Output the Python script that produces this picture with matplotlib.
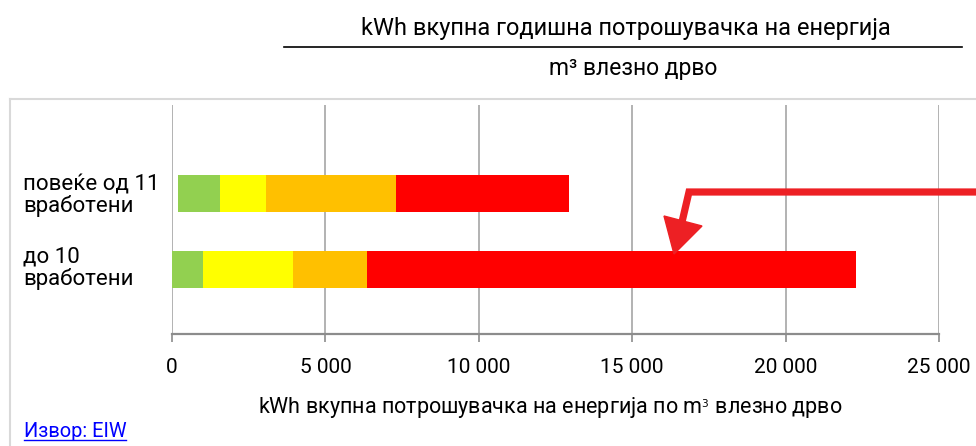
import matplotlib
matplotlib.use("Agg")
import matplotlib.pyplot as plt
from matplotlib.lines import Line2D
from matplotlib.patches import Polygon
from matplotlib.ticker import FuncFormatter

plt.rcParams['font.family'] = ['Roboto', 'DejaVu Sans']

# ---- data ----
categories = ["до 10\nвработени", "повеќе од 11\nвработени"]
offset = [0, 200]
green = [1000, 1350]
yellow = [2950, 1500]
orange = [2400, 4250]
red = [15950, 5650]
colors = ["#92D050", "#FFFF00", "#FFC000", "#FF0000"]
xticks = [0, 5000, 10000, 15000, 20000, 25000]

W, H = 976, 446
fig = plt.figure(figsize=(W / 100, H / 100), dpi=100)

def fx(px):
    return px / W

def fy(py):
    return 1 - py / H

ax = fig.add_axes([fx(172), fy(334), (939 - 172) / W, (334 - 105) / H])

ypos = list(range(len(categories)))
left = list(offset)
for vals, c in zip([green, yellow, orange, red], colors):
    ax.barh(ypos, vals, left=left, height=0.49, color=c, zorder=3)
    left = [l + v for l, v in zip(left, vals)]

ax.set_xlim(0, 25000)
ax.set_ylim(-0.85, 2.165)
ax.set_xticks(xticks)
ax.xaxis.set_major_formatter(FuncFormatter(lambda v, p: f"{int(v):,}".replace(",", " ")))
ax.set_yticks([])
for s in ["top", "right", "left"]:
    ax.spines[s].set_visible(False)
ax.spines["bottom"].set_color("#8C8C8C")
ax.spines["bottom"].set_linewidth(1.6)
ax.tick_params(axis="x", length=6, width=1.2, color="#8C8C8C", pad=11,
               labelsize=15, labelcolor="black", direction="out")
ax.grid(axis="x", color="#A6A6A6", linewidth=1.2, zorder=0)
ax.set_axisbelow(True)

# category labels
cat_y = [268, 196]
for lab, yy in zip(categories, cat_y):
    fig.text(fx(23), fy(yy), lab, ha="left", va="center", fontsize=16,
             linespacing=1.0)

# title as fraction
fig.text(fx(626), fy(28), "kWh вкупна годишна потрошувачка на енергија",
         ha="center", va="center", fontsize=17)
fig.add_artist(Line2D([fx(284), fx(962)], [fy(47), fy(47)], color="black",
                      linewidth=1.2, transform=fig.transFigure))
fig.text(fx(633), fy(68), "m³ влезно дрво", ha="center", va="center",
         fontsize=16.5)

# x label
fig.text(fx(550), fy(407), r"kWh вкупна потрошувачка на енергија по m$^{_3}$ влезно дрво",
         ha="center", va="center", fontsize=15.5)

# source link
fig.text(fx(24), fy(437), "Извор: EIW", ha="left", va="baseline",
         fontsize=14.4, color="#0000FF")
fig.add_artist(Line2D([fx(24), fx(126)], [fy(439.5), fy(439.5)], color="#0000FF",
                      linewidth=1.0, transform=fig.transFigure))

# outer border
fig.add_artist(Line2D([fx(10), fx(976)], [fy(99), fy(99)], color="#D9D9D9",
                      linewidth=1.5, transform=fig.transFigure))
fig.add_artist(Line2D([fx(10), fx(10)], [fy(99), fy(446)], color="#D9D9D9",
                      linewidth=1.5, transform=fig.transFigure))

# red annotation arrow
arrow_c = "#ED2024"
fig.add_artist(Line2D([fx(976), fx(689), fx(682)], [fy(192), fy(192), fy(222)],
                      color=arrow_c, linewidth=5.2, solid_joinstyle="miter",
                      transform=fig.transFigure))
fig.add_artist(Polygon([[fx(664), fy(216)], [fx(702), fy(226)], [fx(674), fy(254)]],
                       closed=True, color=arrow_c, transform=fig.transFigure))

fig.savefig("out.png", dpi=100)
